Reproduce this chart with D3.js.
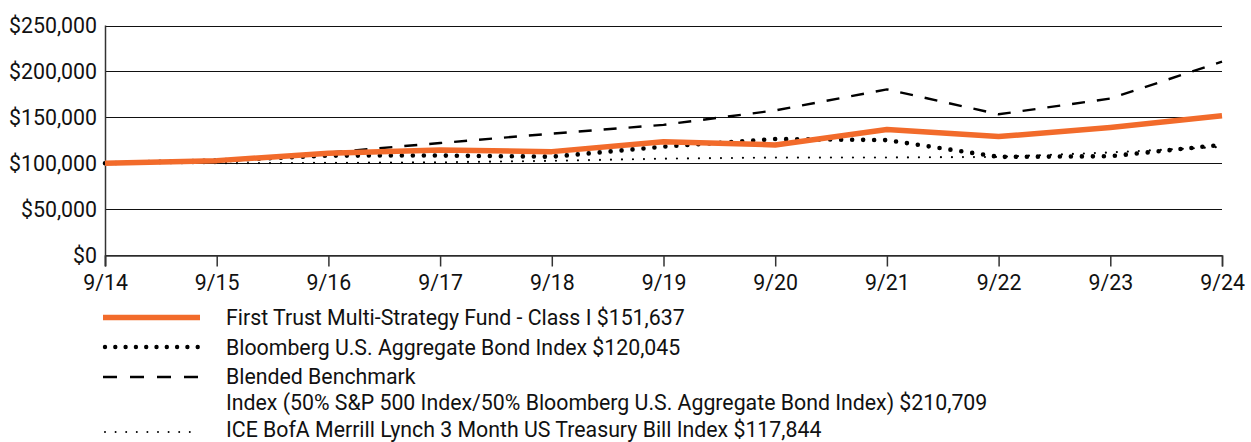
<!DOCTYPE html>
<html>
<head>
<meta charset="utf-8">
<script src="https://cdn.jsdelivr.net/npm/d3@7"></script>
<style>
  body { margin: 0; background: #fff; }
  svg { display: block; font-family: "Roboto", "Open Sans", sans-serif; }
</style>
</head>
<body>
<svg id="chart" width="1251" height="442"></svg>
<script>
// data
const dates = ["9/14", "9/15", "9/16", "9/17", "9/18", "9/19", "9/20", "9/21", "9/22", "9/23", "9/24"]
const fund = [100000, 102800, 110800, 114400, 112600, 123300, 119900, 136800, 129000, 139000, 151637]
const bond = [100000, 102940, 108280, 108360, 107040, 118070, 126310, 125170, 106900, 107580, 120045]
const blended = [100000, 101170, 111600, 122000, 132200, 141800, 157500, 180400, 153300, 170400, 210709]
const tbill = [100000, 100020, 100300, 100970, 102560, 104950, 106150, 106220, 106850, 111710, 117844]
const y_ticks = [0, 50000, 100000, 150000, 200000, 250000]

const legend_labels = [
    "First Trust Multi-Strategy Fund - Class I $151,637",
    "Bloomberg U.S. Aggregate Bond Index $120,045",
    "Blended Benchmark",
    "ICE BofA Merrill Lynch 3 Month US Treasury Bill Index $117,844"
]
const legend_extra = "Index (50% S&P 500 Index/50% Bloomberg U.S. Aggregate Bond Index) $210,709"

const orange = "#f26b2b"
const font_size = 21.3
const plot_left = 105, plot_right = 1222, plot_top = 25.5, plot_bottom = 255

const svg = d3.select("#chart")

var xScale = d3.scalePoint().domain(dates).range([plot_left, plot_right])
var yScale = d3.scaleLinear().domain([0, 250000]).range([plot_bottom, plot_top])

// gridlines
svg.append("g")
    .selectAll("line")
    .data(y_ticks)
    .join("line")
        .attr("x1", plot_left)
        .attr("x2", plot_right)
        .attr("y1", d => Math.round(yScale(d)) + 0.5)
        .attr("y2", d => Math.round(yScale(d)) + 0.5)
        .attr("stroke", "#111")
        .attr("stroke-width", 1.2)

// y labels
svg.append("g")
    .selectAll("text")
    .data(y_ticks)
    .join("text")
        .attr("x", 97)
        .attr("y", d => yScale(d))
        .attr("dy", "0.36em")
        .attr("text-anchor", "end")
        .attr("font-size", font_size)
        .attr("fill", "#111")
        .text(d => "$" + d3.format(",")(d))

// y axis line
svg.append("line")
    .attr("x1", plot_left + 0.5).attr("x2", plot_left + 0.5)
    .attr("y1", plot_top).attr("y2", plot_bottom + 11)
    .attr("stroke", "#333").attr("stroke-width", 1.5)

// x axis
var xAxis = svg.append("g")
    .attr("transform", "translate(0," + (Math.round(plot_bottom) + 0.5) + ")")
    .call(d3.axisBottom(xScale).tickSize(11).tickPadding(8.5))
xAxis.select(".domain").attr("stroke", "#333").attr("stroke-width", 1.5)
xAxis.selectAll(".tick line").attr("stroke", "#333").attr("stroke-width", 1.5)
xAxis.selectAll(".tick text")
    .attr("font-size", font_size)
    .attr("font-family", "Roboto, sans-serif")
    .attr("fill", "#111")

var line = d3.line()
    .x((d, i) => xScale(dates[i]))
    .y(d => yScale(d))

// series
svg.append("path")
    .datum(tbill)
    .attr("d", line)
    .attr("fill", "none")
    .attr("stroke", "#000")
    .attr("stroke-width", 2.2)
    .attr("stroke-linecap", "round")
    .attr("stroke-dasharray", "0,11")

svg.append("path")
    .datum(bond)
    .attr("d", line)
    .attr("fill", "none")
    .attr("stroke", "#000")
    .attr("stroke-width", 4.6)
    .attr("stroke-linecap", "round")
    .attr("stroke-dasharray", "0,11")

svg.append("path")
    .datum(blended)
    .attr("d", line)
    .attr("fill", "none")
    .attr("stroke", "#000")
    .attr("stroke-width", 2.4)
    .attr("stroke-dasharray", "13,12")

svg.append("path")
    .datum(fund)
    .attr("d", line)
    .attr("fill", "none")
    .attr("stroke", orange)
    .attr("stroke-width", 5.5)
    .attr("stroke-linejoin", "round")

// legend
const lx1 = 103, lx2 = 200
var legend = svg.append("g")

legend.append("line")
    .attr("x1", lx1).attr("x2", lx2).attr("y1", 317.5).attr("y2", 317.5)
    .attr("stroke", orange).attr("stroke-width", 5.5)

legend.append("line")
    .attr("x1", lx1 + 2).attr("x2", lx2).attr("y1", 347).attr("y2", 347)
    .attr("stroke", "#000").attr("stroke-width", 4.4)
    .attr("stroke-linecap", "round")
    .attr("stroke-dasharray", "0,10.3")

legend.append("line")
    .attr("x1", lx1).attr("x2", lx2).attr("y1", 377).attr("y2", 377)
    .attr("stroke", "#000").attr("stroke-width", 2.4)
    .attr("stroke-dasharray", "14,13")

legend.append("line")
    .attr("x1", lx1 + 2).attr("x2", lx2).attr("y1", 432).attr("y2", 432)
    .attr("stroke", "#000").attr("stroke-width", 2)
    .attr("stroke-linecap", "round")
    .attr("stroke-dasharray", "0,10.6")

const legend_y = [325, 355, 384, 437]
legend.selectAll("text.leg")
    .data(legend_labels)
    .join("text")
        .attr("class", "leg")
        .attr("x", 226)
        .attr("y", (d, i) => legend_y[i])
        .attr("font-size", font_size)
        .attr("fill", "#111")
        .text(d => d)

legend.append("text")
    .attr("x", 226)
    .attr("y", 410)
    .attr("font-size", font_size)
    .attr("fill", "#111")
    .text(legend_extra)
</script>
</body>
</html>
